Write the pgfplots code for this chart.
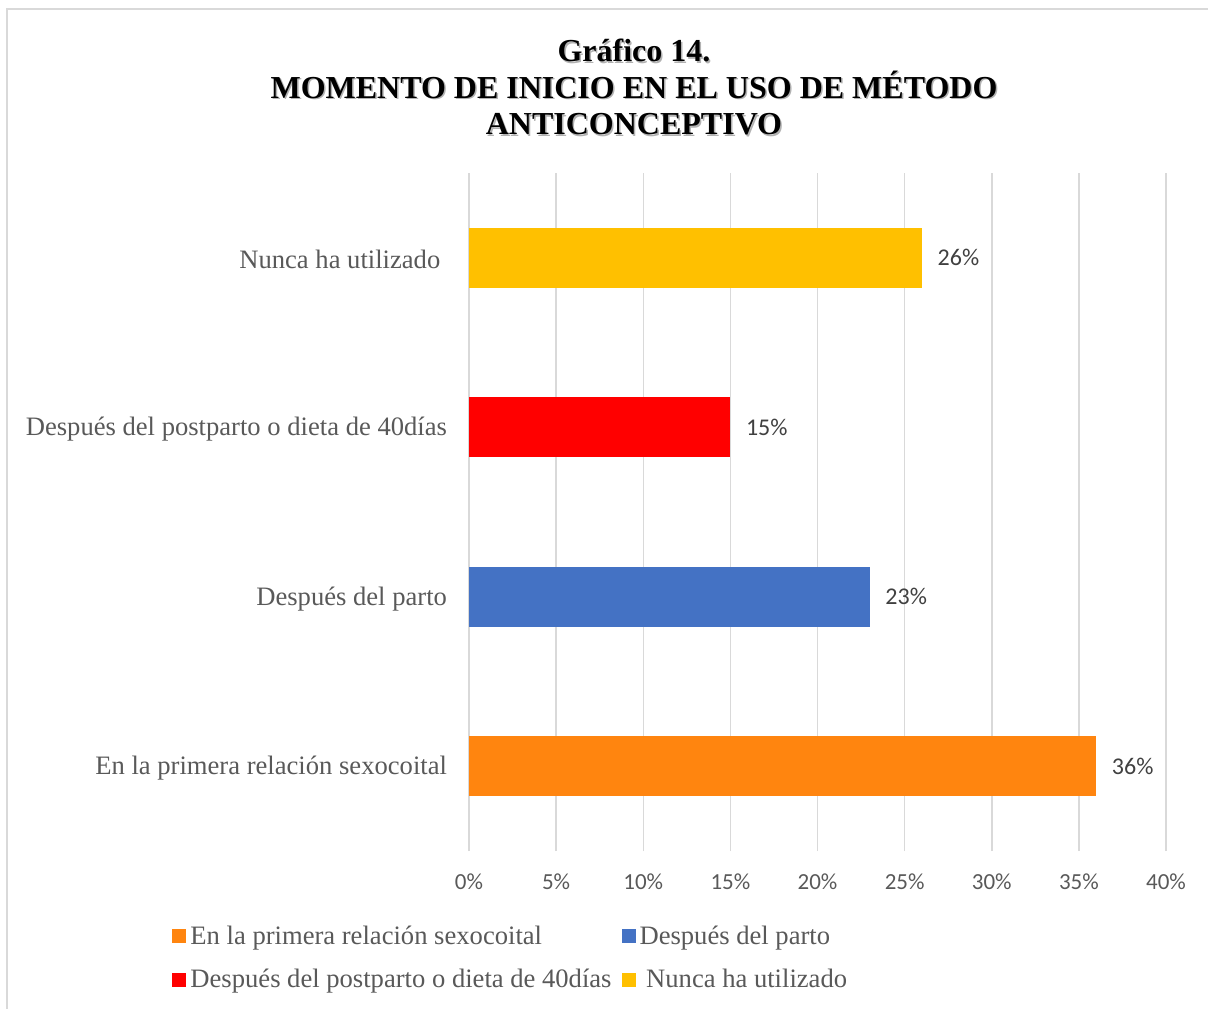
\documentclass[border=0pt]{standalone}
\usepackage{pgfplots}
\pgfplotsset{compat=1.18}
\usepackage{fontspec}
\setmainfont{Liberation Serif}
\newfontfamily\calibri{Carlito}
\definecolor{c1}{HTML}{FF850F}
\definecolor{c2}{HTML}{4472C4}
\definecolor{c3}{HTML}{FF0000}
\definecolor{c4}{HTML}{FFC000}
\definecolor{gridgray}{HTML}{D9D9D9}
\definecolor{labgray}{HTML}{595959}
\definecolor{datgray}{HTML}{404040}
\begin{document}
\begin{tikzpicture}
\begin{scope}[x=0.5pt,y=-0.5pt]
\useasboundingbox (0,0) rectangle (1208,1008);
\draw[gridgray, line width=0.75pt] (7,1015) -- (7,9) -- (1215,9);
\node[gray!60, align=center, font=\bfseries\fontsize{16}{18.25}\selectfont] at (635.5,88.5) {Gráfico 14.\\MOMENTO DE INICIO EN EL USO DE MÉTODO\\ANTICONCEPTIVO};
\node[align=center, font=\bfseries\fontsize{16}{18.25}\selectfont] at (634,87) {Gráfico 14.\\MOMENTO DE INICIO EN EL USO DE MÉTODO\\ANTICONCEPTIVO};
\end{scope}
\begin{axis}[
  at={(234.5pt,-425.5pt)}, anchor=south west,
  scale only axis, width=348.5pt, height=339pt,
  xbar, bar width=30pt, bar shift=0pt,
  xmin=0, xmax=40, ymin=-0.5, ymax=3.5,
  xtick={0,5,10,15,20,25,30,35,40},
  xticklabels={0\%,5\%,10\%,15\%,20\%,25\%,30\%,35\%,40\%},
  ytick={0,1,2,3},
  yticklabels={En la primera relación sexocoital,Después del parto,Después del postparto o dieta de 40días,Nunca ha utilizado\ \ },
  xmajorgrids, ymajorgrids=false,
  major grid style={draw=gridgray, line width=0.75pt},
  axis line style={draw=none},
  major tick length=0pt,
  x tick label style={font=\calibri\fontsize{11.5}{13}\selectfont, text=labgray, yshift=-8pt},
  y tick label style={font=\fontsize{13.3}{15}\selectfont, text=labgray, xshift=-7.5pt, yshift=-1pt},
  nodes near coords={\pgfmathprintnumber[assume math mode=true]{\pgfplotspointmeta}\%},
  nodes near coords align=horizontal,
  every node near coord/.append style={font=\calibri\fontsize{12}{14}\selectfont, text=datgray, xshift=4.3pt},
  legend columns=2,
  legend cell align=left,
  legend image code/.code={\fill[#1] (0pt,-3.5pt) rectangle (7pt,3.5pt);},
  legend style={at={(-0.426,-0.1035)}, anchor=north west, draw=none, inner sep=0pt,
    font=\fontsize{13.3}{15}\selectfont, text=labgray, row sep=7pt,
    /tikz/every even column/.append style={column sep=3pt}},
]
\addplot[fill=c1, draw=none] coordinates {(36,0)};
\addplot[fill=c2, draw=none] coordinates {(23,1)};
\addplot[fill=c3, draw=none] coordinates {(15,2)};
\addplot[fill=c4, draw=none] coordinates {(26,3)};
\legend{En la primera relación sexocoital,Después del parto,Después del postparto o dieta de 40días,\ Nunca ha utilizado}
\end{axis}
\end{tikzpicture}
\end{document}
